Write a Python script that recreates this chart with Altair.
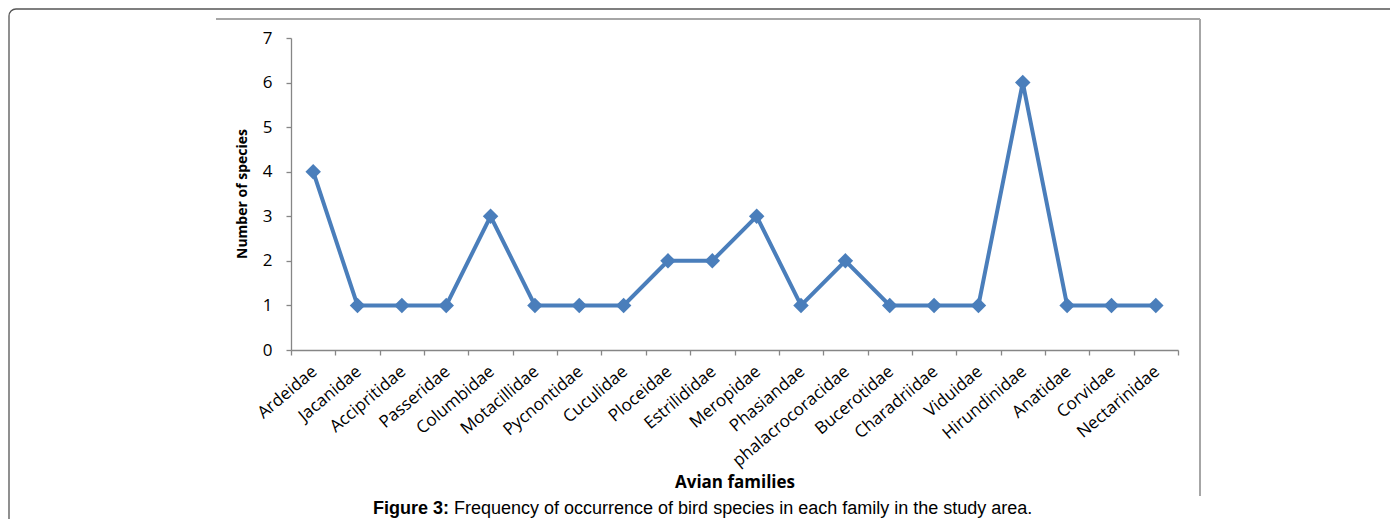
import altair as alt
import pandas as pd

families = ["Ardeidae", "Jacanidae", "Accipritidae", "Passeridae", "Columbidae",
            "Motacillidae", "Pycnontidae", "Cuculidae", "Ploceidae", "Estrilididae",
            "Meropidae", "Phasiandae", "phalacrocoracidae", "Bucerotidae", "Charadriidae",
            "Viduidae", "Hirundinidae", "Anatidae", "Corvidae", "Nectarinidae"]
counts = [4, 1, 1, 1, 3, 1, 1, 1, 2, 2, 3, 1, 2, 1, 1, 1, 6, 1, 1, 1]
y_ticks = [0, 1, 2, 3, 4, 5, 6, 7]

x_title = "Avian families"
y_title = "Number of species"
caption_bold = "Figure 3:"
caption_rest = "Frequency of occurrence of bird species in each family in the study area."

df = pd.DataFrame({"family": families, "count": counts})
one = pd.DataFrame({"k": [0]})

LINE = "#4A7EBB"
AXIS = "#868686"
LABEL_FONT = "Open Sans"

x_enc = alt.X("family:N", sort=families,
              scale=alt.Scale(type="band", paddingInner=0, paddingOuter=0),
              axis=alt.Axis(title=None, tickBand="extent", labelAngle=-40,
                            labelAlign="right", labelBaseline="top",
                            labelPadding=8, labelOffset=-4, tickSize=5,
                            labelFont=LABEL_FONT, labelFontSize=17,
                            labelColor="#000000", domainColor=AXIS,
                            tickColor=AXIS, domainWidth=1.3, tickWidth=1.3,
                            grid=False, labelOverlap=False))
y_enc = alt.Y("count:Q",
              scale=alt.Scale(domain=[0, 7], nice=False, zero=True),
              axis=alt.Axis(title=None, values=y_ticks, tickSize=5,
                            labelPadding=14, labelFont=LABEL_FONT,
                            labelFontSize=17, labelColor="#000000",
                            domainColor=AXIS, tickColor=AXIS,
                            domainWidth=1.3, tickWidth=1.3, grid=False,
                            format="d"))

line = alt.Chart(df).mark_line(color=LINE, strokeWidth=4).encode(x=x_enc, y=y_enc)
pts = alt.Chart(df).mark_point(shape="diamond", filled=True, color=LINE,
                               size=240, opacity=1).encode(x=x_enc, y=y_enc)

outer = alt.Chart(one).mark_rect(fillOpacity=0, stroke="#555555", strokeWidth=1.3,
                                 cornerRadius=7).encode(
    x=alt.value(-282), x2=alt.value(1300), y=alt.value(-29), y2=alt.value(700))
inner_top = alt.Chart(one).mark_rule(color="#a6a6a6", strokeWidth=2).encode(
    x=alt.value(-75), x2=alt.value(909), y=alt.value(-19))
inner_right = alt.Chart(one).mark_rule(color="#a6a6a6", strokeWidth=2).encode(
    x=alt.value(909), y=alt.value(-19), y2=alt.value(458))

xt = alt.Chart(one).mark_text(text=x_title, font=LABEL_FONT, fontWeight="bold",
                              fontSize=17, align="center", baseline="alphabetic",
                              color="#000000").encode(x=alt.value(444), y=alt.value(450))
yt = alt.Chart(one).mark_text(text=y_title, font=LABEL_FONT, fontWeight="bold",
                              fontSize=14, align="center", baseline="middle",
                              angle=270, color="#000000").encode(
    x=alt.value(-48), y=alt.value(156))
cap1 = alt.Chart(one).mark_text(text=caption_bold, font="Liberation Sans",
                                fontWeight="bold", fontSize=18, align="left",
                                baseline="alphabetic", color="#000000").encode(
    x=alt.value(82), y=alt.value(476))
cap2 = alt.Chart(one).mark_text(text=caption_rest, font="Liberation Sans",
                                fontSize=18, align="left", baseline="alphabetic",
                                color="#000000").encode(
    x=alt.value(163), y=alt.value(476))

chart = alt.layer(outer, inner_top, inner_right, line, pts, xt, yt, cap1, cap2).properties(
    width=887, height=312,
    autosize=alt.AutoSizeParams(type="none"),
    padding={"left": 283, "top": 30, "right": 212, "bottom": 169},
    background="#ffffff",
).configure_view(stroke=None)

chart.save("out.html", embed_options={"renderer": "svg", "actions": False})
